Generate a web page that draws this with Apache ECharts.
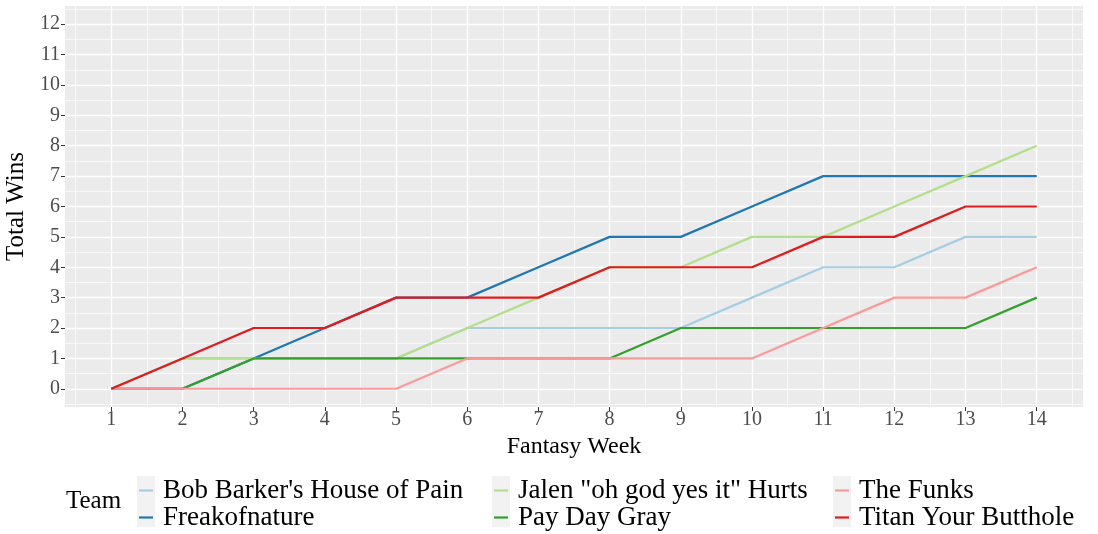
<!DOCTYPE html>
<html>
<head>
<meta charset="utf-8">
<script src="https://cdn.jsdelivr.net/npm/echarts@6.0.0/dist/echarts.min.js"></script>
<style>
  html, body { margin: 0; padding: 0; background: #ffffff; }
  #chart_con { width: 1098px; height: 534px; }
</style>
</head>
<body>
<div id="chart_con"></div>
<script>
// fantasy weeks and cumulative wins per team
const weeks = [1, 2, 3, 4, 5, 6, 7, 8, 9, 10, 11, 12, 13, 14];
const bobBarker = [0, 1, 1, 1, 1, 2, 2, 2, 2, 3, 4, 4, 5, 5];
const freakofnature = [0, 0, 1, 2, 3, 3, 4, 5, 5, 6, 7, 7, 7, 7];
const jalenHurts = [0, 1, 1, 1, 1, 2, 3, 4, 4, 5, 5, 6, 7, 8];
const payDayGray = [0, 0, 1, 1, 1, 1, 1, 1, 2, 2, 2, 2, 2, 3];
const theFunks = [0, 0, 0, 0, 0, 1, 1, 1, 1, 1, 2, 3, 3, 4];
const titan = [0, 1, 2, 2, 3, 3, 3, 4, 4, 4, 5, 5, 6, 6];

const teamNames = [
  "Bob Barker's House of Pain",
  "Freakofnature",
  'Jalen "oh god yes it" Hurts',
  "Pay Day Gray",
  "The Funks",
  "Titan Your Butthole"
];
const teamWins = [bobBarker, freakofnature, jalenHurts, payDayGray, theFunks, titan];
const teamColors = ["#A6CEE3", "#1F78B4", "#B2DF8A", "#33A02C", "#FB9A99", "#E31A1C"];

const font = "Liberation Serif";

// panel box (ggplot style, 5% / 0.6 unit expansion)
const panel = { left: 65, top: 6, width: 1018, height: 401 };
const xMin = 0.35, xMax = 14.65, yMin = -0.6, yMax = 12.6;
const ux = panel.width / (xMax - xMin);
const uy = panel.height / (yMax - yMin);

function gridX(from, to) {
  return {
    left: panel.left + (from - xMin) * ux,
    width: (to - from) * ux,
    top: panel.top,
    height: panel.height,
    outerBoundsMode: "none"
  };
}
function gridY(from, to) {
  return {
    left: panel.left,
    width: panel.width,
    top: panel.top + (yMax - to) * uy,
    height: (to - from) * uy,
    outerBoundsMode: "none"
  };
}

const hidden = { type: "value", show: false };
const minorLine = { show: true, lineStyle: { color: "#FFFFFF", width: 0.7 } };
const majorLine = { show: true, lineStyle: { color: "#FFFFFF", width: 1.4 } };

const series = teamNames.map((name, i) => ({
  name: name,
  type: "line",
  xAxisIndex: 0,
  yAxisIndex: 0,
  symbol: "none",
  showSymbol: false,
  color: teamColors[i],
  lineStyle: { width: 2.2, color: teamColors[i] },
  data: weeks.map((w, j) => [w, teamWins[i][j]])
}));

function legendCol(left, names) {
  return {
    orient: "vertical",
    left: left,
    top: 477,
    padding: 0,
    itemGap: 0,
    icon: "rect",
    itemWidth: 14,
    itemHeight: 2.2,
    data: names,
    textStyle: {
      fontFamily: font,
      fontSize: 27,
      color: "#000000",
      lineHeight: 24,
      padding: [0, 0, 0, 5]
    }
  };
}

const option = {
  animation: false,
  backgroundColor: "#FFFFFF",
  grid: [
    {
      left: panel.left, top: panel.top, width: panel.width, height: panel.height,
      show: true, backgroundColor: "#EBEBEB", borderWidth: 0, outerBoundsMode: "none"
    },
    gridX(0.5, 14.5),
    gridY(-0.5, 12.5),
    gridX(1, 14),
    gridY(0, 12)
  ],
  xAxis: [
    { type: "value", min: xMin, max: xMax, show: false, gridIndex: 0 },
    {
      type: "value", gridIndex: 1, min: 0.5, max: 14.5, interval: 1,
      axisLine: { show: false }, axisTick: { show: false }, axisLabel: { show: false },
      splitLine: minorLine
    },
    Object.assign({ gridIndex: 2 }, hidden),
    {
      type: "value", gridIndex: 3, min: 1, max: 14, interval: 1,
      name: "Fantasy Week",
      nameLocation: "middle",
      nameGap: 23,
      nameTextStyle: { fontFamily: font, fontSize: 24, color: "#000000" },
      axisLine: { show: false },
      axisTick: { show: true, length: 4, lineStyle: { color: "#333333", width: 1 } },
      axisLabel: { fontFamily: font, fontSize: 20, color: "#4D4D4D", margin: 3 },
      splitLine: majorLine
    },
    Object.assign({ gridIndex: 4 }, hidden)
  ],
  yAxis: [
    { type: "value", min: yMin, max: yMax, show: false, gridIndex: 0 },
    Object.assign({ gridIndex: 1 }, hidden),
    {
      type: "value", gridIndex: 2, min: -0.5, max: 12.5, interval: 1,
      axisLine: { show: false }, axisTick: { show: false }, axisLabel: { show: false },
      splitLine: minorLine
    },
    Object.assign({ gridIndex: 3 }, hidden),
    {
      type: "value", gridIndex: 4, min: 0, max: 12, interval: 1,
      name: "Total Wins",
      nameLocation: "middle",
      nameGap: 31,
      nameRotate: 90,
      nameTextStyle: { fontFamily: font, fontSize: 25, color: "#000000" },
      axisLine: { show: false },
      axisTick: { show: true, length: 4, lineStyle: { color: "#333333", width: 1 } },
      axisLabel: { fontFamily: font, fontSize: 20, color: "#4D4D4D", margin: 5 },
      splitLine: majorLine
    }
  ],
  legend: [
    legendCol(139, [teamNames[0], teamNames[1]]),
    legendCol(494, [teamNames[2], teamNames[3]]),
    legendCol(835, [teamNames[4], teamNames[5]])
  ],
  graphic: [
    { type: "rect", left: 137, top: 476, shape: { width: 18, height: 51 }, style: { fill: "#F2F2F2" }, z: -1 },
    { type: "rect", left: 492, top: 476, shape: { width: 18, height: 51 }, style: { fill: "#F2F2F2" }, z: -1 },
    { type: "rect", left: 833, top: 476, shape: { width: 18, height: 51 }, style: { fill: "#F2F2F2" }, z: -1 },
    {
      type: "text", left: 66, top: 489,
      style: { text: "Team", fontFamily: font, fontSize: 25, fill: "#000000" }
    }
  ],
  series: series
};

const chart = echarts.init(document.getElementById("chart_con"));
chart.setOption(option);

window.addEventListener("resize", function() {
  chart.resize();
});
</script>
</body>
</html>
